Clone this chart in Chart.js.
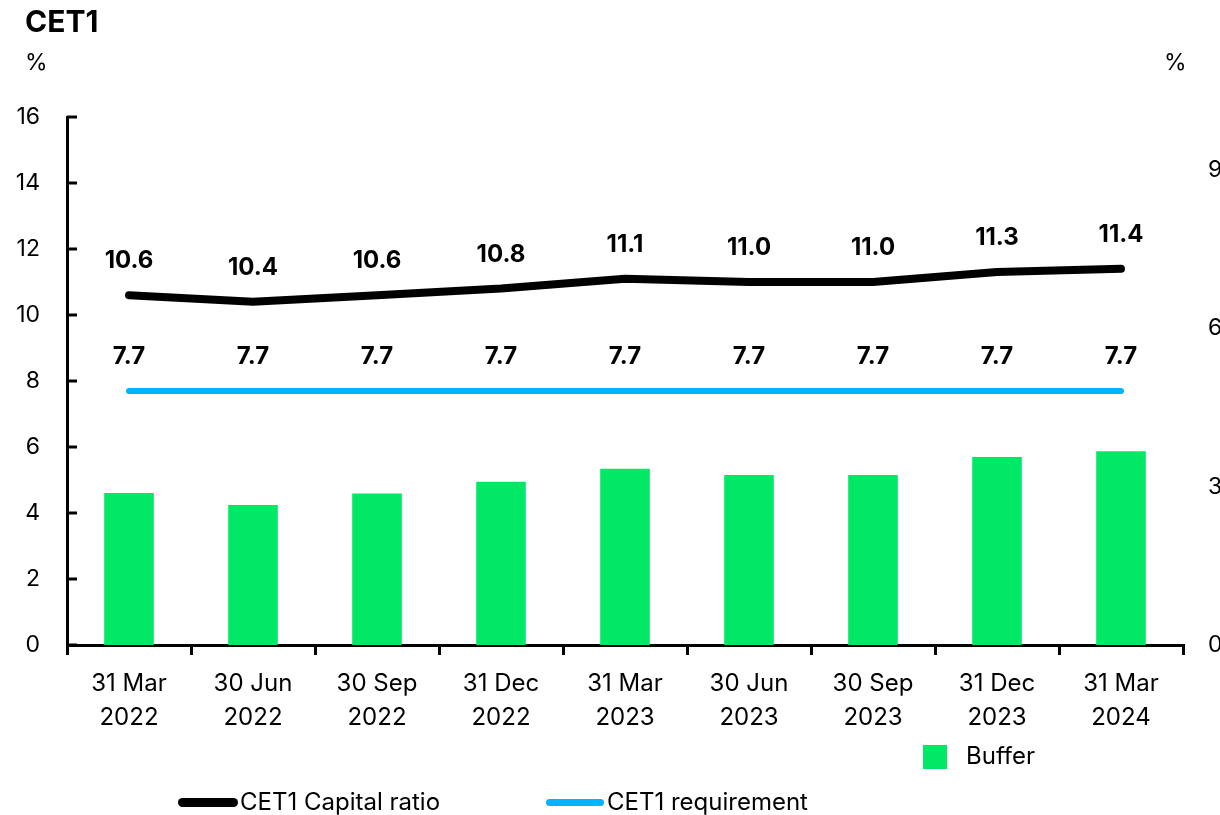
<!DOCTYPE html>
<html>
<head>
<meta charset="utf-8">
<script src="https://cdn.jsdelivr.net/npm/chart.js@4.4.1/dist/chart.umd.min.js"></script>
<style>
    html, body { margin: 0; padding: 0; background: #fff; overflow: hidden; }
    body { width: 1220px; height: 815px; position: relative; font-family: Inter, "Noto Sans", sans-serif; color: #000; }
    #wrap { position: absolute; left: 0; top: 0; width: 1240px; height: 815px; }
    .txt { position: absolute; white-space: nowrap; }
    .title { left: 25px; top: 3px; font-size: 30px; font-weight: 700; }
    .unit { font-size: 23px; top: 48px; }
    .leg { font-size: 24px; }
    .swatch { position: absolute; }
</style>
</head>
<body>
<div id="wrap"><canvas id="cet1Chart" width="1240" height="815"></canvas></div>
<div class="txt title">CET1</div>
<div class="txt unit" style="left:25px;">%</div>
<div class="txt unit" style="left:1164px;">%</div>

<div class="swatch" style="left:923px; top:745px; width:24px; height:24px; background:#00E865;"></div>
<div class="txt leg" style="left:966px; top:741px;">Buffer</div>
<div class="swatch" style="left:178px; top:798px; width:60px; height:9px; border-radius:5px; background:#000;"></div>
<div class="txt leg" style="left:240px; top:787px;">CET1 Capital ratio</div>
<div class="swatch" style="left:546px; top:799px; width:58px; height:7px; border-radius:4px; background:#00B4FF;"></div>
<div class="txt leg" style="left:607px; top:787px;">CET1 requirement</div>

<script>
// Chart data
const quarters = [
    ['31 Mar', '2022'], ['30 Jun', '2022'], ['30 Sep', '2022'], ['31 Dec', '2022'],
    ['31 Mar', '2023'], ['30 Jun', '2023'], ['30 Sep', '2023'], ['31 Dec', '2023'],
    ['31 Mar', '2024']
];
const capitalRatio = [10.6, 10.4, 10.6, 10.8, 11.1, 11.0, 11.0, 11.3, 11.4];
const requirement = [7.7, 7.7, 7.7, 7.7, 7.7, 7.7, 7.7, 7.7, 7.7];
const buffer = [2.88, 2.65, 2.87, 3.09, 3.34, 3.22, 3.22, 3.56, 3.67];
const leftTicks = [0, 2, 4, 6, 8, 10, 12, 14, 16];
const rightTicks = [0, 3, 6, 9];

const colors = {
    black: '#000000',
    blue: '#00B4FF',
    green: '#00E865'
};
const FONT = 'Inter, "Noto Sans", sans-serif';

// Value labels above the line points
const lineLabels = {
    id: 'lineLabels',
    afterDatasetsDraw(chart) {
        const ctx = chart.ctx;
        ctx.save();
        ctx.font = '700 24px ' + FONT;
        ctx.fillStyle = '#000';
        ctx.textAlign = 'center';
        ctx.textBaseline = 'middle';
        chart.data.datasets.forEach((ds, i) => {
            if (ds.type !== 'line') return;
            chart.getDatasetMeta(i).data.forEach((pt, j) => {
                ctx.fillText(ds.data[j].toFixed(1), pt.x, pt.y - 34);
            });
        });
        ctx.restore();
    }
};

// Inward tick marks on the left axis
const innerTicks = {
    id: 'innerTicks',
    afterDraw(chart) {
        const y = chart.scales.y;
        const ctx = chart.ctx;
        ctx.save();
        ctx.strokeStyle = '#000';
        ctx.lineWidth = 3;
        y.ticks.forEach(t => {
            const py = y.getPixelForValue(t.value);
            ctx.beginPath();
            ctx.moveTo(y.right, py);
            ctx.lineTo(y.right + 10, py);
            ctx.stroke();
        });
        ctx.restore();
    }
};

const ctx = document.getElementById('cet1Chart').getContext('2d');
new Chart(ctx, {
    data: {
        labels: quarters,
        datasets: [{
            type: 'line',
            label: 'CET1 Capital ratio',
            data: capitalRatio,
            borderColor: colors.black,
            borderWidth: 8,
            borderCapStyle: 'round',
            borderJoinStyle: 'round',
            pointRadius: 0,
            yAxisID: 'y',
            order: 0
        }, {
            type: 'line',
            label: 'CET1 requirement',
            data: requirement,
            borderColor: colors.blue,
            borderWidth: 6,
            borderCapStyle: 'round',
            pointRadius: 0,
            yAxisID: 'y',
            order: 1
        }, {
            type: 'bar',
            label: 'Buffer',
            data: buffer,
            backgroundColor: colors.green,
            barPercentage: 0.4,
            categoryPercentage: 1,
            yAxisID: 'y1',
            order: 2
        }]
    },
    options: {
        responsive: false,
        animation: false,
        layout: { padding: { top: 117, left: 0, right: 0, bottom: 0 } },
        plugins: {
            legend: { display: false },
            tooltip: { enabled: false }
        },
        scales: {
            x: {
                offset: true,
                grid: {
                    offset: true,
                    drawOnChartArea: false,
                    drawTicks: true,
                    tickLength: 10,
                    lineWidth: 3,
                    color: '#000'
                },
                border: { display: true, color: '#000', width: 3 },
                ticks: {
                    color: '#000',
                    font: { family: FONT, size: 24, lineHeight: 1.4 },
                    padding: 12,
                    maxRotation: 0,
                    autoSkip: false
                },
                afterFit(scale) { scale.height = 170; }
            },
            y: {
                position: 'left',
                min: 0,
                max: 16,
                afterBuildTicks(scale) { scale.ticks = leftTicks.map(v => ({ value: v })); },
                grid: { display: false, drawTicks: false },
                border: { display: true, color: '#000', width: 3 },
                ticks: {
                    color: '#000',
                    font: { family: FONT, size: 23 },
                    padding: 27
                },
                afterFit(scale) { scale.width = 67; }
            },
            y1: {
                position: 'right',
                min: 0,
                max: 10,
                afterBuildTicks(scale) { scale.ticks = rightTicks.map(v => ({ value: v })); },
                grid: { display: false, drawTicks: false },
                border: { display: false },
                ticks: {
                    color: '#000',
                    font: { family: FONT, size: 23 },
                    padding: 25
                },
                afterFit(scale) { scale.width = 57; }
            }
        }
    },
    plugins: [lineLabels, innerTicks]
});
</script>
</body>
</html>
